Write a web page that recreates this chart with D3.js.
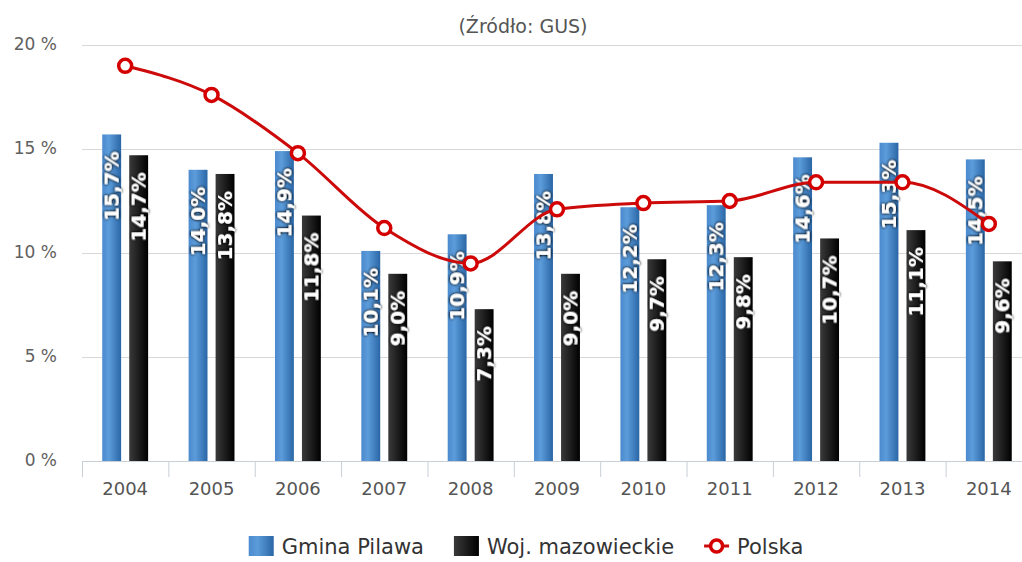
<!DOCTYPE html>
<html>
<head>
<meta charset="utf-8">
<script src="https://cdn.jsdelivr.net/npm/d3@7/dist/d3.min.js"></script>
<style>
  html, body { margin: 0; padding: 0; background: #fff; }
  svg { display: block; font-family: "DejaVu Sans", Verdana, sans-serif; }
</style>
</head>
<body>
<div id="chart"></div>
<script>
// Bezrobocie: Gmina Pilawa vs woj. mazowieckie vs Polska (bars + spline)

const years = ['2004', '2005', '2006', '2007', '2008', '2009', '2010', '2011', '2012', '2013', '2014'];
const gminaPilawa = [15.7, 14.0, 14.9, 10.1, 10.9, 13.8, 12.2, 12.3, 14.6, 15.3, 14.5];
const wojMazowieckie = [14.7, 13.8, 11.8, 9.0, 7.3, 9.0, 9.7, 9.8, 10.7, 11.1, 9.6];
const polska = [19.0, 17.6, 14.8, 11.2, 9.5, 12.1, 12.4, 12.5, 13.4, 13.4, 11.4];
const yTicks = [0, 5, 10, 15, 20];
const seriesNames = ['Gmina Pilawa', 'Woj. mazowieckie', 'Polska'];
const subtitle = '(Źródło: GUS)';

const width = 1022, height = 562;
const plot = { left: 82, right: 1032, top: 45, bottom: 461 };

const svg = d3.select('#chart').append('svg')
    .attr('width', width)
    .attr('height', height);

const defs = svg.append('defs');

const blueGrad = defs.append('linearGradient').attr('id', 'gBlue')
    .attr('x1', 0).attr('x2', 1).attr('y1', 0).attr('y2', 0);
blueGrad.append('stop').attr('offset', '0%').attr('stop-color', '#4a8ace');
blueGrad.append('stop').attr('offset', '35%').attr('stop-color', '#5c9cda');
blueGrad.append('stop').attr('offset', '100%').attr('stop-color', '#2a66a6');

const blackGrad = defs.append('linearGradient').attr('id', 'gBlack')
    .attr('x1', 0).attr('x2', 1).attr('y1', 0).attr('y2', 0);
blackGrad.append('stop').attr('offset', '0%').attr('stop-color', '#3a3a3a');
blackGrad.append('stop').attr('offset', '35%').attr('stop-color', '#262626');
blackGrad.append('stop').attr('offset', '100%').attr('stop-color', '#000');

const halo = defs.append('filter').attr('id', 'halo')
    .attr('x', '-30%').attr('y', '-30%').attr('width', '160%').attr('height', '160%');
halo.append('feGaussianBlur').attr('in', 'SourceAlpha').attr('stdDeviation', 1.6).attr('result', 'b');
halo.append('feComponentTransfer').attr('in', 'b').attr('result', 'b2')
    .append('feFuncA').attr('type', 'linear').attr('slope', 1.6);
const hm = halo.append('feMerge');
hm.append('feMergeNode').attr('in', 'b2');
hm.append('feMergeNode').attr('in', 'SourceGraphic');

// scales
const x = d3.scaleBand().domain(years).range([plot.left, plot.right]).padding(0);
const xSub = d3.scaleBand().domain([0, 1]).range([0, x.bandwidth()])
    .paddingInner(0.3).paddingOuter(0.75);
const y = d3.scaleLinear().domain([0, 20]).range([plot.bottom, plot.top]);

// subtitle
svg.append('text')
    .attr('x', 523).attr('y', 33)
    .attr('text-anchor', 'middle')
    .style('font-size', '19px')
    .style('fill', '#555')
    .text(subtitle);

// grid
svg.append('g').selectAll('line')
    .data(yTicks.filter(d => d > 0))
    .join('line')
    .attr('x1', plot.left).attr('x2', width)
    .attr('y1', d => y(d) + 0.5).attr('y2', d => y(d) + 0.5)
    .attr('stroke', '#d8d8d8').attr('stroke-width', 1);

// y labels
svg.append('g').selectAll('text')
    .data(yTicks)
    .join('text')
    .attr('x', 57)
    .attr('y', d => y(d) - 1)
    .attr('dy', '0.35em')
    .attr('text-anchor', 'end')
    .style('font-size', '17px')
    .style('fill', '#606060')
    .text(d => d + ' %');

// x axis
const xAxis = svg.append('g').attr('transform', `translate(0,${plot.bottom})`);
xAxis.append('line')
    .attr('x1', plot.left).attr('x2', width)
    .attr('y1', 0.5).attr('y2', 0.5)
    .attr('stroke', '#c8cfd6');
xAxis.selectAll('.tick')
    .data(years.concat(['end']))
    .join('line')
    .attr('x1', (d, i) => plot.left + i * x.step() + 0.5)
    .attr('x2', (d, i) => plot.left + i * x.step() + 0.5)
    .attr('y1', 0).attr('y2', 16)
    .attr('stroke', '#c8cfd6');
xAxis.selectAll('text')
    .data(years)
    .join('text')
    .attr('x', d => x(d) + x.bandwidth() / 2)
    .attr('y', 34)
    .attr('text-anchor', 'middle')
    .style('font-size', '18px')
    .style('fill', '#555')
    .text(d => d);

// bars
const series = [
    { values: gminaPilawa, fill: 'url(#gBlue)' },
    { values: wojMazowieckie, fill: 'url(#gBlack)' }
];
const fmt = v => d3.format('.1f')(v).replace('.', ',') + '%';

series.forEach((s, si) => {
    svg.append('g').selectAll('rect')
        .data(s.values)
        .join('rect')
        .attr('x', (d, i) => x(years[i]) + xSub(si))
        .attr('width', xSub.bandwidth())
        .attr('y', d => y(d))
        .attr('height', d => y(0) - y(d))
        .attr('fill', s.fill);
});

// data labels (rotated, inside top of bar)
series.forEach((s, si) => {
    svg.append('g').selectAll('text')
        .data(s.values)
        .join('text')
        .attr('transform', (d, i) => {
            const cx = x(years[i]) + xSub(si) + xSub.bandwidth() / 2;
            return `translate(${cx},${y(d) + 17}) rotate(-90)`;
        })
        .attr('dy', '0.36em')
        .attr('text-anchor', 'end')
        .attr('filter', 'url(#halo)')
        .style('font-size', '20px')
        .style('font-weight', 'bold')
        .style('fill', '#fff')
        .text(d => fmt(d));
});

// Polska spline
const line = d3.line()
    .x((d, i) => x(years[i]) + x.bandwidth() / 2)
    .y(d => y(d))
    .curve(d3.curveMonotoneX);

svg.append('path')
    .datum(polska)
    .attr('d', line)
    .attr('fill', 'none')
    .attr('stroke', '#cc0a0a')
    .attr('stroke-width', 3);

svg.append('g').selectAll('circle')
    .data(polska)
    .join('circle')
    .attr('cx', (d, i) => x(years[i]) + x.bandwidth() / 2)
    .attr('cy', d => y(d))
    .attr('r', 6.5)
    .attr('fill', '#fff')
    .attr('stroke', '#d40000')
    .attr('stroke-width', 3.5);

// legend
const legend = svg.append('g');
const items = [
    { name: seriesNames[0], type: 'rect', fill: 'url(#gBlue)' },
    { name: seriesNames[1], type: 'rect', fill: 'url(#gBlack)' },
    { name: seriesNames[2], type: 'line' }
];
const symW = 25, symGap = 8, itemGap = 30;
let cursor = 0;
items.forEach(it => {
    const g = legend.append('g');
    if (it.type === 'rect') {
        g.append('rect').attr('x', 0).attr('y', -10).attr('width', symW).attr('height', 20)
            .attr('fill', it.fill);
    } else {
        g.append('line').attr('x1', 0).attr('x2', symW).attr('y1', 0).attr('y2', 0)
            .attr('stroke', '#cc0a0a').attr('stroke-width', 3);
        g.append('circle').attr('cx', symW / 2).attr('cy', 0).attr('r', 6)
            .attr('fill', '#fff').attr('stroke', '#d40000').attr('stroke-width', 3.5);
    }
    const t = g.append('text')
        .attr('x', symW + symGap).attr('dy', '0.36em')
        .style('font-size', '21px')
        .style('fill', '#333')
        .text(it.name);
    const w = symW + symGap + t.node().getComputedTextLength();
    g.attr('transform', `translate(${cursor},0)`);
    cursor += w + itemGap;
});
const totalW = cursor - itemGap;
legend.attr('transform', `translate(${526 - totalW / 2},546)`);
</script>
</body>
</html>
